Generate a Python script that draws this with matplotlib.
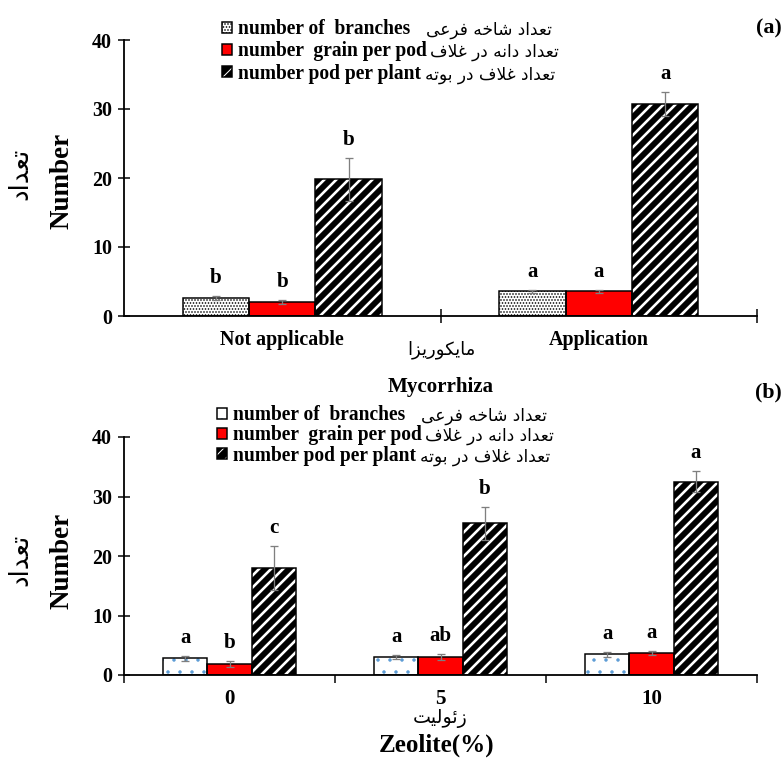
import matplotlib.pyplot as plt
from matplotlib.patches import Patch
from matplotlib.legend_handler import HandlerTuple

# ---- data ----
# panel (a): mycorrhiza
myco_groups = ["Not applicable", "Application"]
myco_branches = [2.6, 3.6]
myco_branches_err = [0.3, 0.2]
myco_grain = [2.0, 3.6]
myco_grain_err = [0.3, 0.2]
myco_pod = [19.8, 30.7]
myco_pod_err = [3.1, 1.7]
myco_letters_branches = ["b", "a"]
myco_letters_grain = ["b", "a"]
myco_letters_pod = ["b", "a"]

# panel (b): zeolite
zeo_groups = ["0", "5", "10"]
zeo_branches = [2.8, 3.0, 3.5]
zeo_branches_err = [0.4, 0.3, 0.4]
zeo_grain = [1.9, 3.0, 3.7]
zeo_grain_err = [0.5, 0.5, 0.4]
zeo_pod = [18.0, 25.5, 32.5]
zeo_pod_err = [3.7, 2.8, 1.8]
zeo_letters_branches = ["a", "a", "a"]
zeo_letters_grain = ["b", "ab", "a"]
zeo_letters_pod = ["c", "b", "a"]

series_en = ["number of  branches", "number  grain per pod", "number pod per plant"]
series_fa = ["تعداد شاخه فرعی", "تعداد دانه در غلاف", "تعداد غلاف در بوته"]
y_fa = "تعداد"
myco_fa = "مایکوریزا"
zeo_fa = "زئولیت"


# ---- small arabic shaper (matplotlib has no RTL shaping) ----
# letter: (isolated, final, initial, medial)
FORMS = {
    "ا": ("\uFE8D", "\uFE8E", None, None),
    "ب": ("\uFE8F", "\uFE90", "\uFE91", "\uFE92"),
    "ت": ("\uFE95", "\uFE96", "\uFE97", "\uFE98"),
    "خ": ("\uFEA5", "\uFEA6", "\uFEA7", "\uFEA8"),
    "د": ("\uFEA9", "\uFEAA", None, None),
    "ر": ("\uFEAD", "\uFEAE", None, None),
    "ز": ("\uFEAF", "\uFEB0", None, None),
    "ش": ("\uFEB5", "\uFEB6", "\uFEB7", "\uFEB8"),
    "ع": ("\uFEC9", "\uFECA", "\uFECB", "\uFECC"),
    "غ": ("\uFECD", "\uFECE", "\uFECF", "\uFED0"),
    "ف": ("\uFED1", "\uFED2", "\uFED3", "\uFED4"),
    "ل": ("\uFEDD", "\uFEDE", "\uFEDF", "\uFEE0"),
    "م": ("\uFEE1", "\uFEE2", "\uFEE3", "\uFEE4"),
    "ن": ("\uFEE5", "\uFEE6", "\uFEE7", "\uFEE8"),
    "ه": ("\uFEE9", "\uFEEA", "\uFEEB", "\uFEEC"),
    "و": ("\uFEED", "\uFEEE", None, None),
    "ئ": ("\uFE89", "\uFE8A", "\uFE8B", "\uFE8C"),
    "ی": ("\uFBFC", "\uFBFD", "\uFBFE", "\uFBFF"),
    "ک": ("\uFB8E", "\uFB8F", "\uFB90", "\uFB91"),
}


def ar(text):
    out = []
    i = 0
    while i < len(text):
        c = text[i]
        if c not in FORMS:
            out.append(c)
            i += 1
            continue
        prev = text[i - 1] if i > 0 else ""
        nxt = text[i + 1] if i + 1 < len(text) else ""
        join_prev = prev in FORMS and FORMS[prev][2] is not None
        if c == "ل" and nxt == "ا":
            out.append("\uFEFC" if join_prev else "\uFEFB")
            i += 2
            continue
        join_next = nxt in FORMS and FORMS[c][2] is not None
        iso, fin, ini, med = FORMS[c]
        if join_prev and join_next:
            out.append(med)
        elif join_prev:
            out.append(fin)
        elif join_next:
            out.append(ini)
        else:
            out.append(iso)
        i += 1
    return "".join(out)[::-1]


SERIF = ["Liberation Serif", "DejaVu Sans"]
ARAB = ["DejaVu Sans"]

W, H = 784, 758
fig = plt.figure(figsize=(W / 72, H / 72), dpi=72)


def px(x, y):
    return x / W, 1 - y / H


def add_axes(left, top, right, bottom):
    return fig.add_axes([left / W, 1 - bottom / H, (right - left) / W, (bottom - top) / H])


def draw_panel(ax, groups, vals, errs, letters, branch_style, fs_tick):
    n = len(groups)
    bw = 0.21
    offs = [-bw, 0, bw]
    for k in range(3):
        xs = [i + offs[k] for i in range(n)]
        if k == 0:
            bars = ax.bar(xs, vals[k], bw, facecolor="white", edgecolor=branch_style[0],
                          hatch=branch_style[1], linewidth=0, zorder=2)
            hlw = branch_style[2]
        elif k == 1:
            bars = ax.bar(xs, vals[k], bw, facecolor="#ff0000", linewidth=0, zorder=2)
            hlw = None
        else:
            bars = ax.bar(xs, vals[k], bw, facecolor="black", edgecolor="white",
                          hatch="//", linewidth=0, zorder=2)
            hlw = 2.6
        if hlw is not None:
            for b in bars:
                if hasattr(b, "set_hatch_linewidth"):
                    b.set_hatch_linewidth(hlw)
        # black outline on top of the fill
        ax.bar(xs, vals[k], bw, facecolor="none", edgecolor="black", linewidth=1.5, zorder=3)
        ax.errorbar(xs, vals[k], yerr=errs[k], fmt="none", ecolor="#7f7f7f",
                    elinewidth=1.3, capsize=4, capthick=1.3, zorder=4)
        for x, v, e, lab in zip(xs, vals[k], errs[k], letters[k]):
            ax.annotate(lab, (x, v + e), xytext=(0, 8), textcoords="offset points",
                        ha="center", va="bottom", fontsize=21, fontweight="bold",
                        family=SERIF)

    ax.set_xlim(-0.5, n - 0.5)
    ax.set_ylim(0, 40)
    ax.set_yticks([0, 10, 20, 30, 40])
    ax.set_xticks(range(n))
    ax.set_xticklabels(groups, fontsize=fs_tick, fontweight="bold", family=SERIF)
    ax.tick_params(axis="x", which="major", length=0, pad=14)
    ax.tick_params(axis="y", direction="inout", length=12, width=1.5, labelsize=20, pad=6)
    for t in ax.get_yticklabels():
        t.set_fontweight("bold")
        t.set_family(SERIF)
    for s in ["top", "right"]:
        ax.spines[s].set_visible(False)
    for s in ["left", "bottom"]:
        ax.spines[s].set_linewidth(1.8)


def add_legend(ax, x, y, fs, spacing, branch_style):
    outline = dict(facecolor="none", edgecolor="black", linewidth=1.5)
    h_branch = (Patch(facecolor="white", edgecolor=branch_style[0], hatch=branch_style[1],
                      linewidth=0), Patch(**outline))
    h_grain = Patch(facecolor="#ff0000", edgecolor="black", linewidth=1.5)
    h_pod = (Patch(facecolor="black", edgecolor="white", hatch="//", linewidth=0),
             Patch(**outline))
    leg = ax.legend([h_branch, h_grain, h_pod], series_en, loc="upper left",
                    bbox_to_anchor=px(x, y), bbox_transform=fig.transFigure,
                    frameon=False, borderpad=0, borderaxespad=0,
                    handlelength=0.5, handleheight=0.5, handletextpad=0.3,
                    labelspacing=spacing,
                    handler_map={tuple: HandlerTuple(ndivide=1)},
                    prop={"family": SERIF, "weight": "bold", "size": fs})
    return leg


def add_legend_farsi(leg, gaps):
    # persian part of each legend entry, set right after the english text
    fig.canvas.draw()
    inv = fig.transFigure.inverted()
    for t, fa, gap in zip(leg.get_texts(), series_fa, gaps):
        bb = t.get_window_extent()
        fx, fy = inv.transform((bb.x1 + gap, (bb.y0 + bb.y1) / 2 - 1))
        fig.text(fx, fy, ar(fa), ha="left", va="center", fontsize=17, family=ARAB)


branch_a = ("black", "....", 1.0)
branch_b = ("#5b9bd5", ".", 1.0)

# ---- panel (a) ----
ax1 = add_axes(124, 40, 757, 316)
draw_panel(ax1, myco_groups,
           [myco_branches, myco_grain, myco_pod],
           [myco_branches_err, myco_grain_err, myco_pod_err],
           [myco_letters_branches, myco_letters_grain, myco_letters_pod],
           branch_a, 20)
ax1.set_xticks([0.5, 1.5], minor=True)
ax1.tick_params(axis="x", which="minor", direction="inout", length=14, width=1.5)
leg1 = add_legend(ax1, 222, 19, 19.5, 0.12, branch_a)
fig.text(*px(441, 350), ar(myco_fa), ha="center", va="center", fontsize=18, family=ARAB)
fig.text(*px(441, 387), "Mycorrhiza", ha="center", va="center", fontsize=21,
         fontweight="bold", family=SERIF)
fig.text(*px(62, 181), "Number", rotation=90, ha="center", va="center", fontsize=27,
         fontweight="bold", family=SERIF)
fig.text(*px(20, 174), ar(y_fa), rotation=90, ha="center", va="center", fontsize=26,
         family=ARAB)
fig.text(*px(769, 28), "(a)", ha="center", va="center", fontsize=22,
         fontweight="bold", family=SERIF)

# ---- panel (b) ----
ax2 = add_axes(124, 437, 757, 675)
draw_panel(ax2, zeo_groups,
           [zeo_branches, zeo_grain, zeo_pod],
           [zeo_branches_err, zeo_grain_err, zeo_pod_err],
           [zeo_letters_branches, zeo_letters_grain, zeo_letters_pod],
           branch_b, 21)
ax2.set_xticks([-0.5, 0.5, 1.5, 2.5], minor=True)
ax2.tick_params(axis="x", which="minor", direction="out", length=8, width=1.5)
leg2 = add_legend(ax2, 217, 405, 19.5, 0.02, branch_b)
fig.text(*px(440, 718), ar(zeo_fa), ha="center", va="center", fontsize=19, family=ARAB)
fig.text(*px(437, 745), "Zeolite(%)", ha="center", va="center", fontsize=25,
         fontweight="bold", family=SERIF)
fig.text(*px(62, 561), "Number", rotation=90, ha="center", va="center", fontsize=27,
         fontweight="bold", family=SERIF)
fig.text(*px(20, 560), ar(y_fa), rotation=90, ha="center", va="center", fontsize=26,
         family=ARAB)
fig.text(*px(768, 392), "(b)", ha="center", va="center", fontsize=22,
         fontweight="bold", family=SERIF)

add_legend_farsi(leg1, [16, 4, 4])
add_legend_farsi(leg2, [16, 4, 4])

fig.savefig("out.png", dpi=72, facecolor="white")
